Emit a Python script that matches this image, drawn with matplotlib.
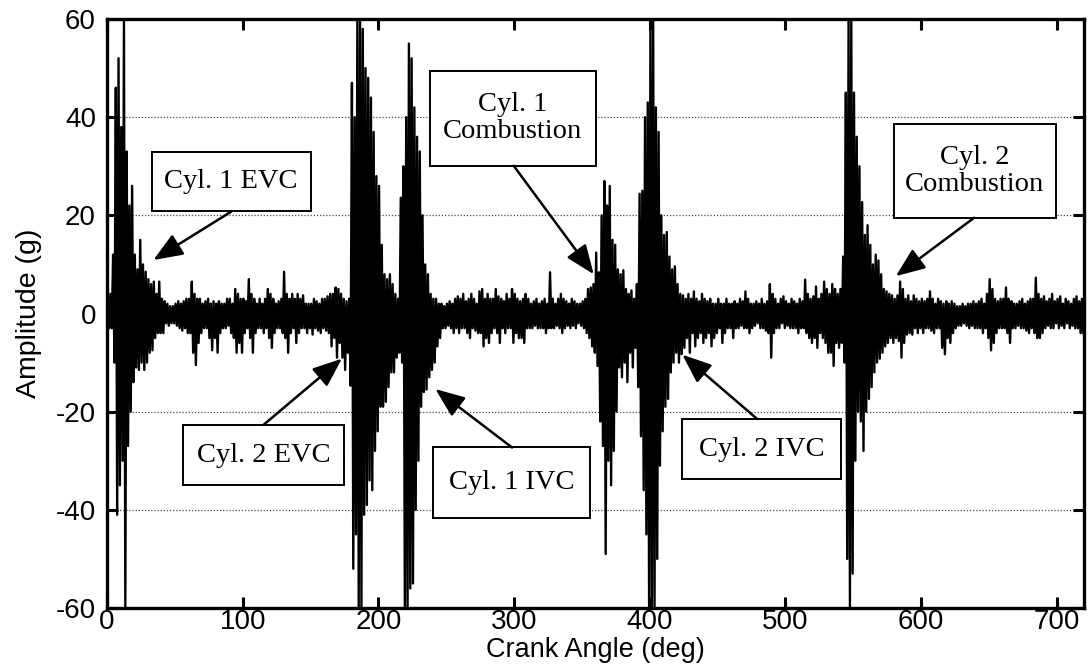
import numpy as np
import matplotlib
matplotlib.use("Agg")
import matplotlib.pyplot as plt
from matplotlib.patches import Rectangle

# accelerometer trace, peak envelope per 2 deg of crank angle
BIN_DEG = 2.0

HI = [
    3, 4, 12, 46, 52, 38, 60, 33, 22, 26,
    12, 9, 15, 10, 8.5, 7, 6, 6.5, 4, 6.5,
    3, 2.5, 2, 1.5, 1.5, 2, 2.5, 2, 2.5, 3,
    3, 6.5, 4, 3, 3, 2, 2.5, 3, 2, 2.5,
    2, 2.5, 2, 2, 3, 3, 2, 5, 4, 3,
    3, 2.5, 7, 4, 3, 2, 3, 2, 3, 5,
    4, 3, 2, 2.5, 3, 8.5, 4, 3, 4, 3,
    4, 3, 3.7, 2, 2, 2, 3, 2.5, 2, 3,
    3, 3.5, 4, 4, 5.3, 5, 4, 3, 2.5, 3,
    47, 40, 60, 60, 58, 50, 48, 44, 37, 28,
    26, 14, 8, 7, 8, 6, 4, 3, 23.6, 30,
    40, 55, 52, 42, 36, 33, 20, 10, 8, 4,
    3, 3, 2, 2, 1.5, 2, 2.5, 2, 3, 3.5,
    3, 4, 2.5, 3, 4, 3, 2, 4.5, 5, 3,
    4, 3, 3, 5, 3.5, 3, 2.5, 4, 3, 5,
    4, 3, 2.5, 3, 4, 3, 2, 2.5, 3, 2,
    2.5, 3, 2, 8.4, 3, 2, 3, 4, 3, 2.5,
    2, 3, 2.5, 2, 2, 2.5, 3, 5, 5.3, 6,
    12.4, 8.4, 20, 27, 22, 26, 15, 14, 9, 8,
    8.8, 5, 4, 4.7, 3, 6, 24.4, 25, 40, 43,
    60, 60, 42, 37, 20, 16, 16.6, 11.6, 9, 9.6,
    6, 4, 3.7, 3, 4, 3, 4.5, 3, 2.5, 4,
    3, 2.5, 3, 2, 2, 3, 2, 2, 3, 2,
    2, 2.5, 2, 3, 2.5, 4.5, 3, 2, 2, 2.5,
    2, 3, 2, 2.5, 6, 4, 3, 2, 3, 3.5,
    2.5, 2, 3, 2.5, 2, 3, 2.5, 6.9, 4, 3,
    3.5, 5.5, 3, 4, 6.5, 5, 4, 6, 5, 4,
    5, 11.6, 45, 60, 60, 45, 36, 30, 22.7, 16,
    18, 14, 10, 12, 10.8, 8, 5, 4.5, 4, 3.7,
    3, 3.7, 6.5, 5, 3, 3.7, 2.5, 3.7, 3, 2.5,
    3, 2.5, 3, 4.5, 3, 2, 3, 2.5, 2, 2.5,
    2, 2.5, 2, 1.5, 1.5, 2, 1.5, 2, 2, 2.5,
    2, 2.5, 3, 2, 4, 7, 5, 3, 2.5, 3,
    3, 5.3, 3, 2.5, 2, 2, 2.5, 3, 2, 2.5,
    3, 3, 7.3, 4, 3, 3.5, 2.5, 3, 4, 2.5,
    3, 3.5, 2, 3, 2.5, 2, 3, 3.5, 2.5, 3,
]

LO = [
    -3, -3, -10, -41, -35, -30, -60, -27, -20, -14,
    -11, -11.5, -10, -11.5, -10, -8, -7.5, -5, -4, -4,
    -4, -2, -2.5, -2, -2, -2.5, -3, -3.5, -3, -4,
    -4, -8, -10.5, -6, -4, -3, -3, -5, -7.5, -5,
    -8, -4, -3, -3, -2.5, -4, -5, -8, -6, -8,
    -4, -3, -5, -8, -4, -3, -3, -4, -3, -5,
    -7, -4, -3, -3, -4, -5, -8, -4, -3, -6,
    -4, -3, -3, -4, -3, -4.3, -3, -3.5, -4, -3,
    -3.5, -4, -6.7, -5, -9, -6, -9, -11.5, -8, -14.7,
    -52, -45, -60, -60, -41, -39, -34, -36, -28, -24,
    -19, -19, -18, -15, -12, -12, -9, -8, -10, -60,
    -60, -56, -55, -40, -30, -19, -16, -15.5, -13, -11.5,
    -10, -6.7, -5, -3, -3, -2.5, -3, -4, -3, -4,
    -3, -3, -4, -5, -3, -3.5, -4, -4, -6.7, -5,
    -6, -4, -3, -4, -6, -3, -4, -3, -3, -6,
    -4, -5, -5, -6, -3, -3, -3, -2.5, -3, -3,
    -3, -4, -3, -3, -3, -2.5, -3, -4, -3, -2.5,
    -3, -2.5, -3, -2, -2.5, -3, -4, -5, -6.7, -8,
    -10.7, -22, -27, -49, -30, -35, -28, -20, -11, -13,
    -10, -14, -8, -11, -7, -15, -25, -36, -45, -60,
    -60, -60, -50, -31, -24, -19, -17.4, -12, -10, -8,
    -10, -8.3, -7, -5, -8, -4, -6.7, -5, -4, -6,
    -5, -4, -6.7, -5, -4, -3, -6, -4, -3, -3,
    -5, -3, -3, -2.5, -3, -3, -4, -3, -2.5, -2,
    -3, -3, -3.5, -4, -9, -4, -3, -3, -2, -3,
    -2.5, -3, -3, -3, -4, -3, -3, -4, -5, -6,
    -5, -7, -4, -5, -6, -8, -8, -10.7, -6, -7,
    -6, -10, -50, -60, -53, -30, -20, -22, -28, -20,
    -17.4, -15, -12, -10, -9.2, -8, -6.7, -6, -5, -6,
    -5, -5.6, -9, -6, -4.3, -4, -4.3, -3, -4, -3,
    -4, -3, -3, -3.5, -4, -3, -3, -7, -8.3, -5,
    -6, -4, -3, -2.5, -2.5, -2, -2.5, -3, -2.5, -3,
    -3, -3, -4, -3, -5, -7.5, -6, -4, -3, -3,
    -3, -4, -6, -3, -3, -2.5, -3, -3, -3.5, -4,
    -3, -4, -5, -5, -4, -3, -2.5, -3, -3, -2,
    -3, -2.5, -3, -2, -3, -2.5, -3, -3, -4, -4,
]

# (label, box x0, x1, y0, y1, arrow tail, arrow tip)
CALLOUTS = [
    ("Cyl. 1 EVC", (33, 150, 20.8, 33.0), (91.8, 20.8), (34.2, 10.9)),
    ("Cyl. 2 EVC", (56.3, 174.3, -35.0, -22.7), (115.3, -22.7), (173.1, -9.2)),
    ("Cyl. 1 IVC", (240.5, 356, -41.6, -27.3), (298.5, -27.3), (242.0, -15.4)),
    ("Cyl. 1\nCombustion", (238, 360, 30.1, 49.4), (299.7, 30.1), (358.7, 8.0)),
    ("Cyl. 2 IVC", (424, 540.7, -33.8, -21.5), (479.2, -21.5), (424.0, -8.4)),
    ("Cyl. 2\nCombustion", (580, 699, 19.5, 38.7), (639.0, 19.5), (581.3, 7.6)),
]

plt.rcParams["font.family"] = ["Liberation Sans", "DejaVu Sans"]
plt.rcParams["axes.unicode_minus"] = False

fig = plt.figure(figsize=(10.89, 6.65), dpi=100)
ax = fig.add_axes([107 / 1089, 1 - 608 / 665, 977 / 1089, 589 / 665])

# each bin contributes its upper then lower excursion
hi = np.asarray(HI, dtype=float)
lo = np.asarray(LO, dtype=float)
start = np.arange(len(hi)) * BIN_DEG
xs = np.column_stack([start + 0.5, start + 1.5]).ravel()
ys = np.column_stack([hi, lo]).ravel()
ax.plot(xs, ys, color="black", lw=1.7, zorder=3)

ax.set_xlim(0, 720)
ax.set_ylim(-60, 60)
ax.set_xticks(np.arange(0, 701, 100))
ax.set_yticks(np.arange(-60, 61, 20))
ax.yaxis.grid(True, linestyle=(0, (1, 1.5)), color="0.3", lw=0.9)
ax.set_axisbelow(True)
ax.tick_params(direction="in", length=8, width=2.2, top=True, right=True,
               labelsize=20, pad=1)
ax.tick_params(axis="y", pad=8)
for s in ax.spines.values():
    s.set_linewidth(2.4)

ax.set_xlabel("Crank Angle (deg)", fontsize=19.5, va="top")
ax.xaxis.set_label_coords(0.5, -0.05)
ax.set_ylabel("Amplitude (g)", fontsize=20.5, labelpad=10)

for label, (x0, x1, y0, y1), tail, tip in CALLOUTS:
    ax.add_patch(Rectangle((x0, y0), x1 - x0, y1 - y0, facecolor="white",
                           edgecolor="black", lw=1.4, zorder=5))
    ax.text((x0 + x1) / 2, (y0 + y1) / 2, label, ha="center", va="center",
            family="Liberation Serif", fontsize=20.5, linespacing=1.1, zorder=6)
    ax.annotate("", xy=tip, xytext=tail, zorder=6,
                arrowprops=dict(arrowstyle="-|>,head_length=1.0,head_width=0.4",
                                color="black", lw=1.8, shrinkA=0, shrinkB=0,
                                mutation_scale=18))

fig.savefig("out.png", dpi=100)
